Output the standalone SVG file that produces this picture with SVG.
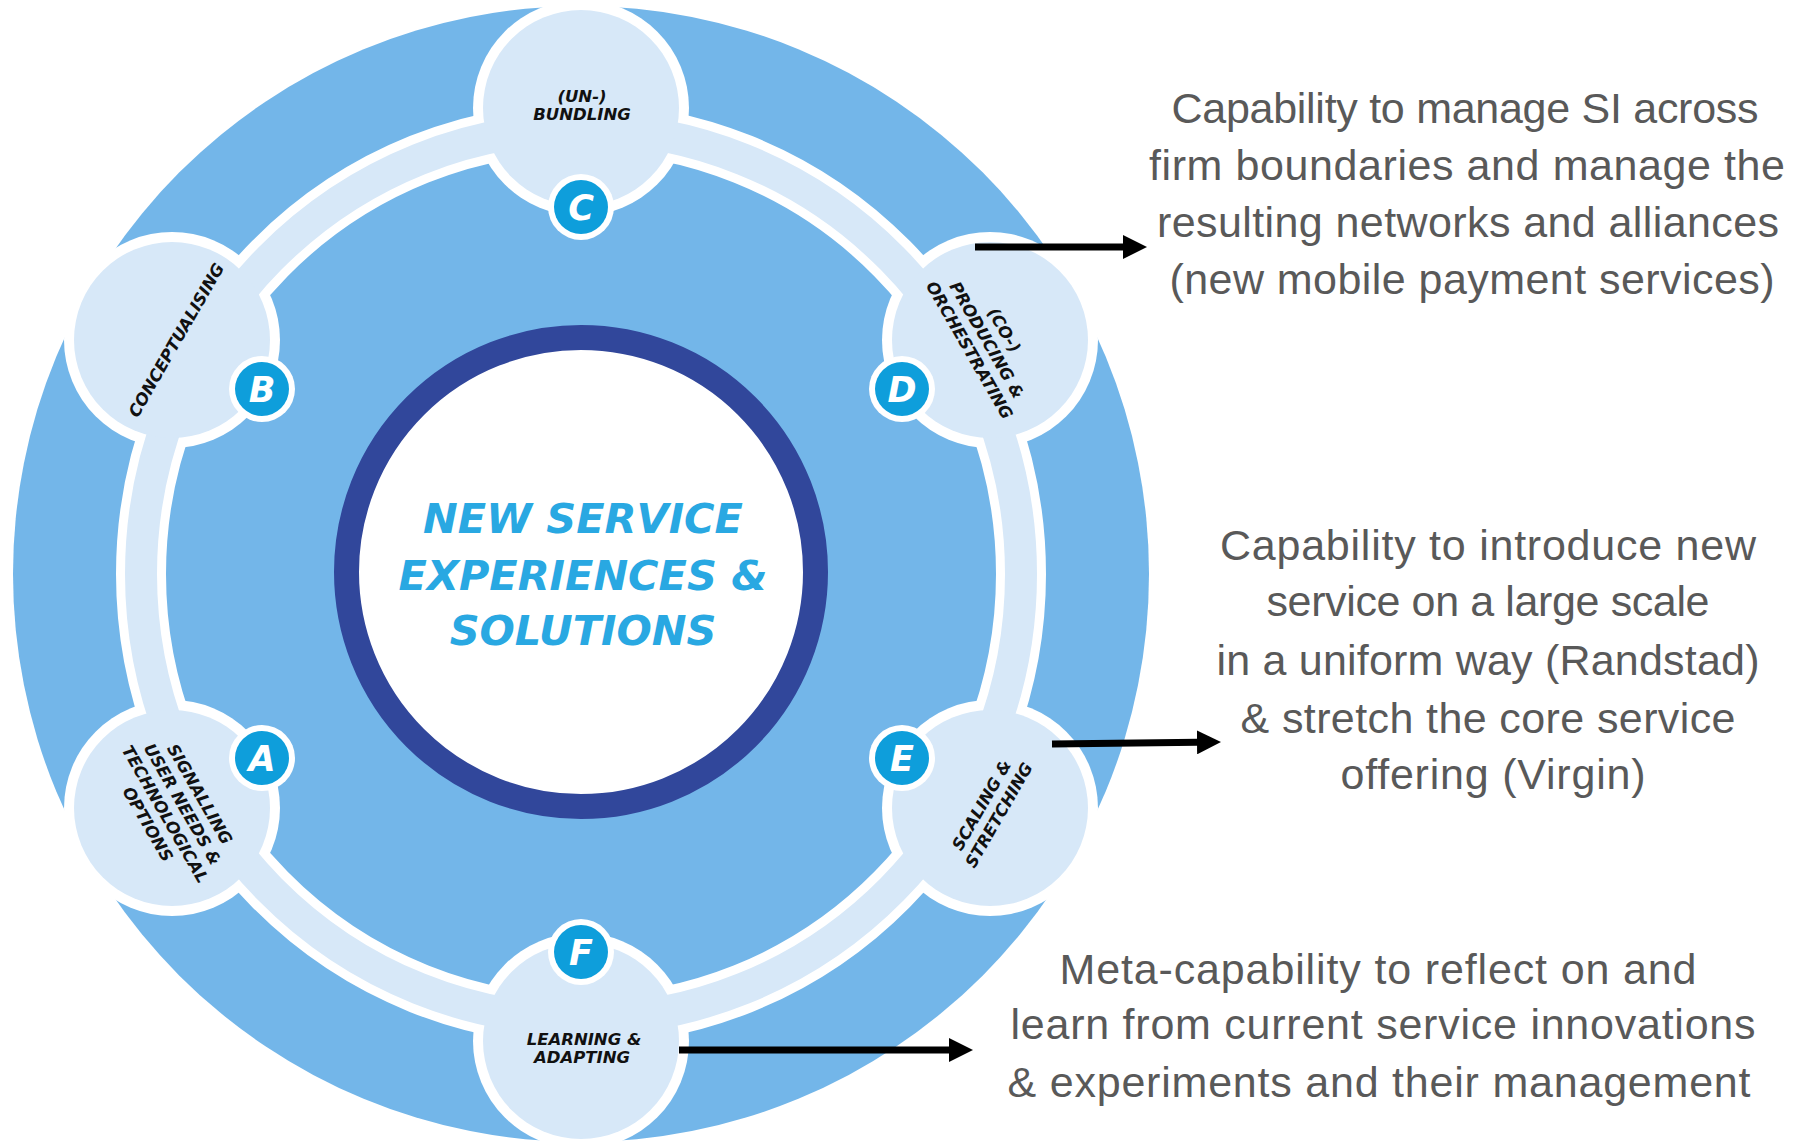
<svg xmlns="http://www.w3.org/2000/svg" width="1806" height="1144" viewBox="0 0 1806 1144">
<defs>
<marker id="ah" markerUnits="userSpaceOnUse" markerWidth="24" markerHeight="24" viewBox="0 0 24 24" refX="1" refY="12" orient="auto"><path d="M0,0 L24,12 L0,24 Z" fill="#000"/></marker>
<style>
.lbl{font-family:"DejaVu Sans",sans-serif;font-weight:bold;font-style:italic;font-size:16.5px;fill:#111;text-anchor:middle}
.halo{fill:#fff}
.nodefill{fill:#D7E8F8}
.bw{fill:#fff}
.bb{fill:#0E9EDB}
.bt{font-family:"DejaVu Sans",sans-serif;font-weight:bold;font-style:italic;font-size:35px;fill:#fff;text-anchor:middle}
.note{font-family:"Liberation Sans",Arial,sans-serif;font-size:43px;fill:#595959;text-anchor:middle}
.ctr{font-family:"DejaVu Sans",sans-serif;font-weight:bold;font-style:italic;font-size:41.5px;fill:#29A8E2;text-anchor:middle}
.arrow{stroke:#000;stroke-width:7;fill:none;marker-end:url(#ah)}
</style>
</defs>
<rect width="1806" height="1144" fill="#fff"/>
<g id="wheel">
<circle cx="581" cy="574" r="568" fill="#73B6E9"/>
<ellipse cx="581" cy="574" rx="440" ry="446" fill="none" stroke="#fff" stroke-width="50"/>
</g>
<g id="node-halos">
<circle class="halo" cx="172" cy="808" r="108"/>
<circle class="halo" cx="172" cy="340" r="108"/>
<circle class="halo" cx="581" cy="108" r="108"/>
<circle class="halo" cx="990" cy="340" r="108"/>
<circle class="halo" cx="990" cy="808" r="108"/>
<circle class="halo" cx="581" cy="1041" r="108"/>
</g>
<g id="band">
<ellipse cx="581" cy="574" rx="440" ry="446" fill="none" stroke="#D7E8F8" stroke-width="32"/>
</g>
<g id="center">
<circle cx="581" cy="572" r="234.5" fill="#fff" stroke="#31479B" stroke-width="25"/>
<text class="ctr" x="583" y="533">NEW SERVICE</text>
<text class="ctr" x="583" y="590">EXPERIENCES &amp;</text>
<text class="ctr" x="583" y="645">SOLUTIONS</text>
</g>
<g id="node-A">
<circle class="nodefill" cx="172" cy="808" r="98"/>
<g transform="translate(174,809) rotate(60)">
<text class="lbl" x="0" y="-24">SIGNALLING</text>
<text class="lbl" x="0" y="-4">USER NEEDS &amp;</text>
<text class="lbl" x="0" y="16">TECHNOLOGICAL</text>
<text class="lbl" x="0" y="36">OPTIONS</text>
</g>
<circle class="bw" cx="262" cy="758" r="33"/>
<circle class="bb" cx="262" cy="758" r="27"/>
<text class="bt" x="262" y="771">A</text>
</g>
<g id="node-B">
<circle class="nodefill" cx="172" cy="340" r="98"/>
<g transform="translate(176,340) rotate(-60)">
<text class="lbl" x="0" y="6">CONCEPTUALISING</text>
</g>
<circle class="bw" cx="262" cy="389" r="33"/>
<circle class="bb" cx="262" cy="389" r="27"/>
<text class="bt" x="262" y="402">B</text>
</g>
<g id="node-C">
<circle class="nodefill" cx="581" cy="108" r="98"/>
<text class="lbl" x="582" y="102">(UN-)</text>
<text class="lbl" x="582" y="120">BUNDLING</text>
<circle class="bw" cx="581" cy="207" r="33"/>
<circle class="bb" cx="581" cy="207" r="27"/>
<text class="bt" x="581" y="220">C</text>
</g>
<g id="node-D">
<circle class="nodefill" cx="990" cy="340" r="98"/>
<g transform="translate(987,340) rotate(60)">
<text class="lbl" x="0" y="-14">(CO-)</text>
<text class="lbl" x="0" y="6">PRODUCING &amp;</text>
<text class="lbl" x="0" y="26">ORCHESTRATING</text>
</g>
<circle class="bw" cx="902" cy="389" r="33"/>
<circle class="bb" cx="902" cy="389" r="27"/>
<text class="bt" x="902" y="402">D</text>
</g>
<g id="node-E">
<circle class="nodefill" cx="990" cy="808" r="98"/>
<g transform="translate(990,810) rotate(-60)">
<text class="lbl" x="0" y="-4">SCALING &amp;</text>
<text class="lbl" x="0" y="16">STRETCHING</text>
</g>
<circle class="bw" cx="902" cy="758" r="33"/>
<circle class="bb" cx="902" cy="758" r="27"/>
<text class="bt" x="902" y="771">E</text>
</g>
<g id="node-F">
<circle class="nodefill" cx="581" cy="1041" r="98"/>
<text class="lbl" x="584" y="1045">LEARNING &amp;</text>
<text class="lbl" x="582" y="1063">ADAPTING</text>
<circle class="bw" cx="581" cy="952" r="33"/>
<circle class="bb" cx="581" cy="952" r="27"/>
<text class="bt" x="581" y="965">F</text>
</g>
<g id="connectors">
<line class="arrow" x1="975" y1="247" x2="1124" y2="247"/>
<line class="arrow" x1="1052" y1="744" x2="1198" y2="742.3"/>
<line class="arrow" x1="679" y1="1050" x2="950" y2="1050"/>
</g>
<g id="note-1">
<text class="note" x="1465" y="123" textLength="587">Capability to manage SI across</text>
<text class="note" x="1467" y="180" textLength="636">firm boundaries and manage the</text>
<text class="note" x="1468" y="237" textLength="622">resulting networks and alliances</text>
<text class="note" x="1472" y="294" textLength="605">(new mobile payment services)</text>
</g>
<g id="note-2">
<text class="note" x="1488" y="560" textLength="536">Capability to introduce new</text>
<text class="note" x="1488" y="616" textLength="443">service on a large scale</text>
<text class="note" x="1488" y="675" textLength="543">in a uniform way (Randstad)</text>
<text class="note" x="1488" y="733" textLength="495">&amp; stretch the core service</text>
<text class="note" x="1493" y="789" textLength="305">offering (Virgin)</text>
</g>
<g id="note-3">
<text class="note" x="1378" y="984" textLength="637">Meta-capability to reflect on and</text>
<text class="note" x="1383" y="1039" textLength="745">learn from current service innovations</text>
<text class="note" x="1379" y="1097" textLength="743">&amp; experiments and their management</text>
</g>
</svg>
